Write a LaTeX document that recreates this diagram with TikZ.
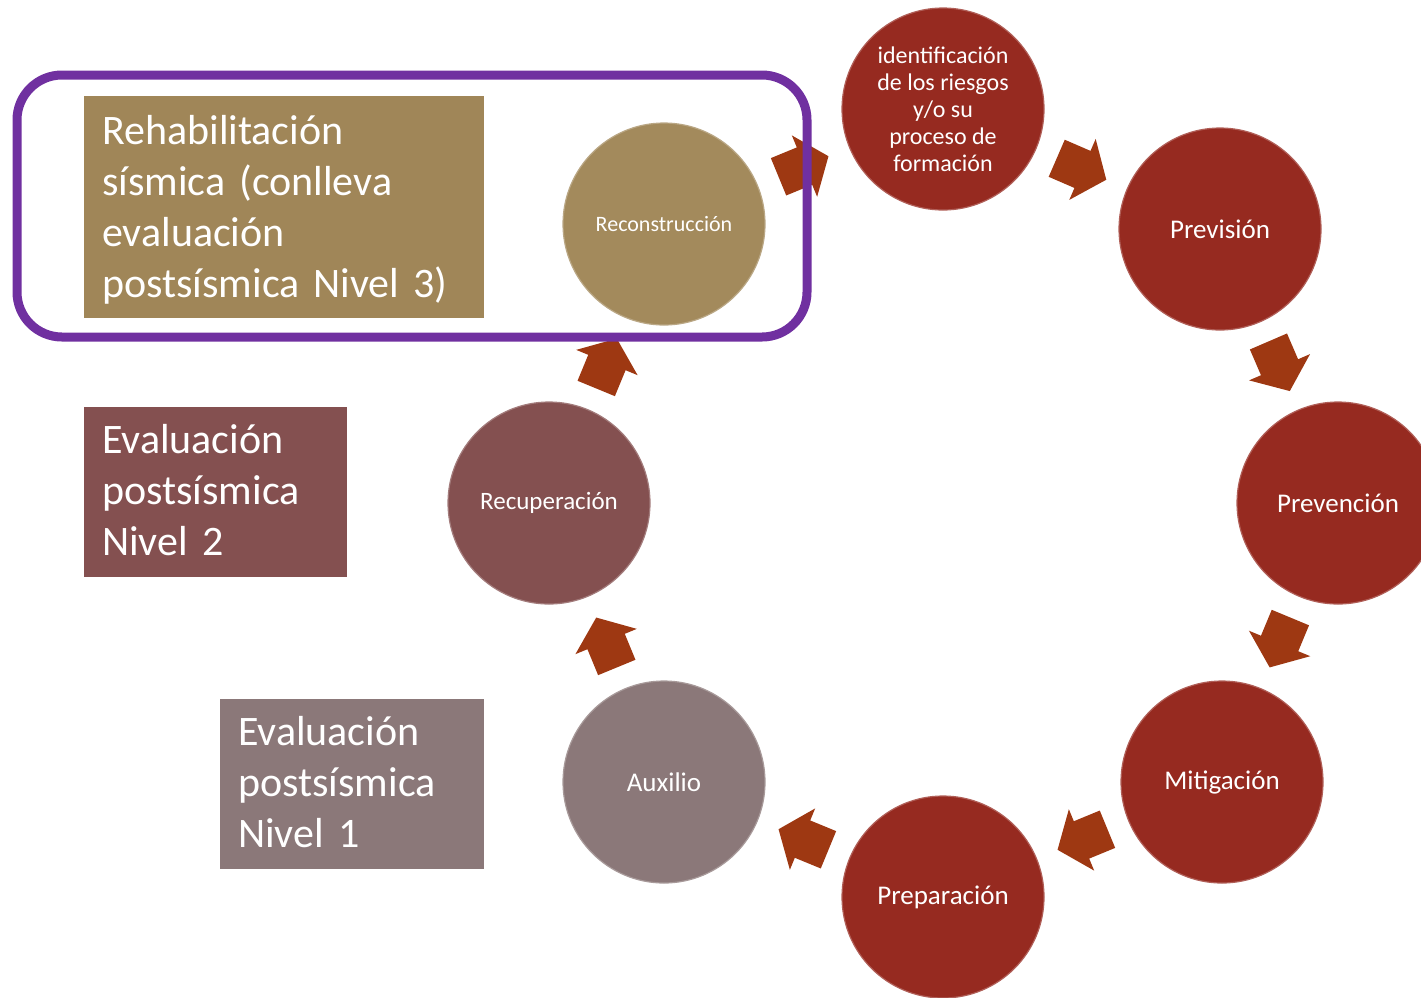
\documentclass[tikz,border=0pt]{standalone}
\usepackage{fontspec}
\setmainfont{Carlito}
\newfontfamily\pnlfam{Carlito}[WordSpace=0.7]
\usetikzlibrary{shapes.arrows}
\definecolor{redc}{RGB}{150,42,32}
\definecolor{arrowc}{RGB}{158,56,18}
\definecolor{tanc}{RGB}{163,138,92}
\definecolor{tanbox}{RGB}{160,134,88}
\definecolor{mauve}{RGB}{132,80,80}
\definecolor{greyc}{RGB}{139,120,121}
\definecolor{purp}{RGB}{112,48,160}
\begin{document}
\begin{tikzpicture}[x=1pt,y=-1pt,
  stage/.style={circle, minimum size=202pt, inner sep=0pt, text=white, align=center,
    font=\fontsize{27}{30}\selectfont, line width=1.2pt},
  flow/.style={single arrow, fill=arrowc, draw=none, minimum height=54pt,
    single arrow head extend=13pt, single arrow tip angle=104,
    inner xsep=0pt, inner ysep=20pt, outer sep=0pt,
    pos=0.42, sloped, allow upside down},
  panel/.style={rectangle, inner sep=0pt, anchor=north west, draw=none},
  paneltext/.style={text=white, align=left, anchor=base west, inner sep=0pt, text width=380pt,
    font=\pnlfam\fontsize{42}{51}\selectfont},
  frame/.style={draw=purp, line width=9pt, rounded corners=45pt}]
\useasboundingbox (0,0) rectangle (1421,997);
\clip (0,0) rectangle (1421,997);
% panels
\node[panel, fill=tanbox, minimum width=400pt, minimum height=222pt] (p3) at (84,96) {};
\node[paneltext] (t3) at (102,144) {Rehabilitación\\sísmica (conlleva\\evaluación\\postsísmica Nivel 3)};
\node[panel, fill=mauve, minimum width=263pt, minimum height=170pt] (p2) at (84,407) {};
\node[paneltext] (t2) at (102,453) {Evaluación\\postsísmica\\Nivel 2};
\node[panel, fill=greyc, minimum width=264pt, minimum height=170pt] (p1) at (220,699) {};
\node[paneltext] (t1) at (238,745) {Evaluación\\postsísmica\\Nivel 1};
% stages
\node[stage, fill=redc, draw=redc!75!white, font=\fontsize{24}{27}\selectfont] (ident) at (943,109) {identificación\\de los riesgos\\y/o su\\proceso de\\formación};
\node[stage, fill=redc, draw=redc!75!white] (prev) at (1220,229) {Previsión};
\node[stage, fill=redc, draw=redc!75!white] (preven) at (1338,503) {Prevención};
\node[stage, fill=redc, draw=redc!75!white] (mitig) at (1222,782) {Mitigación};
\node[stage, fill=redc, draw=redc!75!white] (prep) at (943,897) {Preparación};
\node[stage, fill=greyc, draw=greyc!75!white] (aux) at (664,782) {Auxilio};
\node[stage, fill=mauve, draw=mauve!75!white, font=\fontsize{25}{28}\selectfont] (recup) at (549,503) {Recuperación};
\node[stage, fill=tanc, draw=tanc!75!white, font=\fontsize{22}{26}\selectfont] (recon) at (664,224) {Reconstrucción};
% flow arrows
\path (ident) -- node[flow] (a1) {} (prev);
\path (prev) -- node[flow] (a2) {} (preven);
\path (preven) -- node[flow] (a3) {} (mitig);
\path (mitig) -- node[flow] (a4) {} (prep);
\path (prep) -- node[flow] (a5) {} (aux);
\path (aux) -- node[flow] (a6) {} (recup);
\path (recup) -- node[flow] (a7) {} (recon);
\path (recon) -- node[flow] (a8) {} (ident);
% purple frame
\draw[frame] (17,75) rectangle (807,337);
\end{tikzpicture}
\end{document}
